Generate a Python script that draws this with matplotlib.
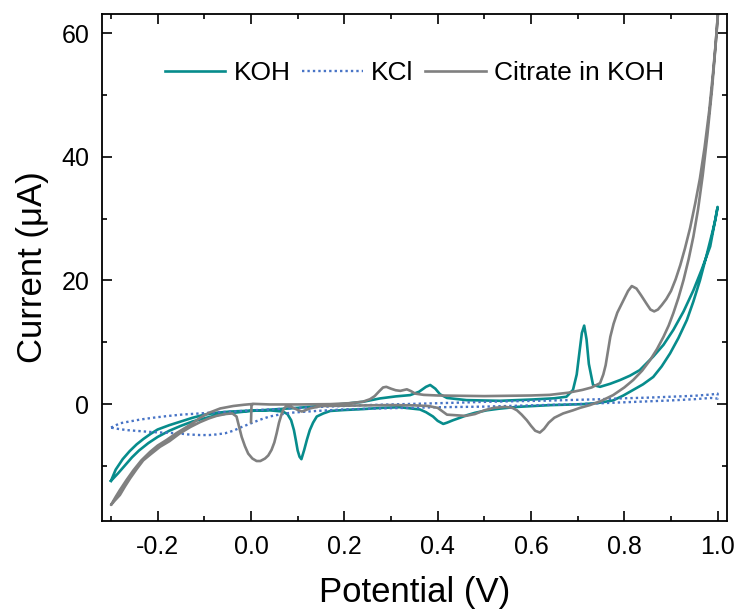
import matplotlib
matplotlib.use("Agg")
import matplotlib.pyplot as plt
from matplotlib.ticker import MultipleLocator, FormatStrFormatter

plt.rcParams['font.family'] = ['Liberation Sans', 'DejaVu Sans']
plt.rcParams['axes.unicode_minus'] = False

# ---- cyclic voltammograms: potential (V) vs current (uA) ----
koh_v = [-0.300, -0.285, -0.270, -0.255, -0.240, -0.220, -0.200, -0.175, -0.150, -0.125,
         -0.100, -0.075, -0.050, -0.025, 0.000, 0.050, 0.100, 0.169, 0.200, 0.240,
         0.276, 0.310, 0.341, 0.360, 0.375, 0.384, 0.395, 0.405, 0.420, 0.462,
         0.534, 0.605, 0.650, 0.676, 0.690, 0.698, 0.704, 0.709, 0.714, 0.719,
         0.724, 0.733, 0.748, 0.770, 0.791, 0.812, 0.833, 0.862, 0.884, 0.905,
         0.927, 0.948, 0.966, 0.984, 1.000,
         0.995, 0.990, 0.976, 0.962, 0.948, 0.934, 0.916, 0.898, 0.880, 0.862,
         0.840, 0.819, 0.798, 0.776, 0.745, 0.712, 0.641, 0.569, 0.530, 0.505,
         0.480, 0.462, 0.448, 0.433, 0.420, 0.412, 0.400, 0.390, 0.375, 0.362,
         0.319, 0.280, 0.240, 0.200, 0.170, 0.155, 0.141, 0.133, 0.126, 0.120,
         0.114, 0.108, 0.104, 0.100, 0.096, 0.092, 0.086, 0.078, 0.068, 0.040,
         0.000, -0.045, -0.075, -0.100, -0.125, -0.150, -0.175, -0.200, -0.215, -0.230,
         -0.245, -0.260, -0.275, -0.290, -0.300]
koh_i = [-12.4, -11.2, -9.9, -8.6, -7.5, -6.3, -5.3, -4.3, -3.5, -2.8,
         -2.3, -1.8, -1.5, -1.3, -1.1, -0.85, -0.6, -0.16, 0.05, 0.38,
         0.92, 1.25, 1.46, 2.0, 2.8, 3.1, 2.5, 1.6, 1.0, 0.65,
         0.54, 0.76, 0.95, 1.2, 2.3, 4.8, 8.5, 11.5, 12.7, 10.5,
         6.5, 3.1, 2.8, 3.3, 3.9, 4.6, 5.5, 7.7, 9.6, 12.0,
         15.0, 18.4, 21.8, 25.5, 31.9,
         29.8, 28.2, 24.0, 20.0, 16.6, 13.6, 10.7, 8.2, 6.1, 4.4,
         3.2, 2.3, 1.4, 0.6, 0.2, 0.0, -0.16, -0.45, -0.75, -1.0,
         -1.4, -1.8, -2.2, -2.6, -3.0, -3.2, -2.7, -2.0, -1.3, -0.86,
         -0.5, -0.6, -0.8, -0.95, -1.1, -1.5, -2.0, -3.0, -4.2, -5.7,
         -7.4, -8.9, -8.5, -7.5, -5.8, -4.2, -2.6, -1.6, -1.2, -1.0,
         -1.05, -1.2, -1.4, -1.7, -2.2, -2.8, -3.4, -4.1, -4.8, -5.6,
         -6.5, -7.6, -8.9, -10.6, -12.4]

kcl_v = [-0.300, -0.281, -0.260, -0.238, -0.210, -0.181, -0.150, -0.109, -0.070, -0.038,
         0.000, 0.041, 0.080, 0.120, 0.160, 0.200, 0.250, 0.300, 0.350, 0.400,
         0.450, 0.500, 0.550, 0.600, 0.650, 0.700, 0.750, 0.800, 0.850, 0.900,
         0.950, 0.985, 1.000,
         1.000, 0.985, 0.950, 0.900, 0.850, 0.800, 0.750, 0.700, 0.650, 0.600,
         0.550, 0.500, 0.450, 0.400, 0.341, 0.300, 0.250, 0.200, 0.141, 0.110,
         0.084, 0.060, 0.040, 0.020, 0.000, -0.020, -0.038, -0.055, -0.074, -0.090,
         -0.109, -0.135, -0.159, -0.190, -0.216, -0.240, -0.266, -0.285, -0.300]
kcl_i = [-3.8, -3.1, -2.8, -2.5, -2.2, -1.94, -1.7, -1.5, -1.3, -1.2,
         -1.0, -0.86, -0.7, -0.55, -0.4, -0.3, -0.15, -0.05, 0.05, 0.15,
         0.25, 0.37, 0.45, 0.52, 0.6, 0.7, 0.8, 0.95, 1.05, 1.2,
         1.35, 1.55, 1.7,
         0.9, 1.0, 0.8, 0.6, 0.45, 0.3, 0.15, 0.0, -0.1, -0.2,
         -0.3, -0.4, -0.45, -0.5, -0.6, -0.65, -0.75, -0.85, -1.1, -1.25,
         -1.4, -1.7, -2.0, -2.5, -3.1, -3.7, -4.3, -4.7, -4.9, -5.0,
         -5.0, -4.9, -4.7, -4.6, -4.5, -4.35, -4.2, -4.0, -3.8]

cit_v = [0.000, 0.001, 0.004, 0.040, 0.100, 0.170, 0.210, 0.240, 0.255, 0.265,
         0.275, 0.283, 0.290, 0.300, 0.310, 0.320, 0.334, 0.343, 0.352, 0.370,
         0.400, 0.450, 0.500, 0.550, 0.600, 0.640, 0.680, 0.710, 0.730, 0.748,
         0.755, 0.760, 0.765, 0.770, 0.777, 0.785, 0.798, 0.808, 0.816, 0.826,
         0.836, 0.848, 0.856, 0.864, 0.872, 0.880, 0.890, 0.900, 0.910, 0.920,
         0.930, 0.941, 0.952, 0.962, 0.972, 0.982, 0.990, 0.996, 1.002,
         0.995, 0.988, 0.978, 0.968, 0.958, 0.948, 0.938, 0.927, 0.916, 0.905,
         0.895, 0.884, 0.870, 0.855, 0.838, 0.819, 0.800, 0.776, 0.750, 0.726,
         0.705, 0.690, 0.669, 0.650, 0.638, 0.628, 0.619, 0.609, 0.600, 0.591,
         0.580, 0.570, 0.560, 0.545, 0.520, 0.500, 0.480, 0.460, 0.440, 0.420,
         0.400, 0.380, 0.350, 0.300, 0.250, 0.200, 0.150, 0.126, 0.109, 0.098,
         0.085, 0.076, 0.070, 0.066, 0.060, 0.055, 0.050, 0.044, 0.037, 0.030,
         0.020, 0.012, 0.003, -0.006, -0.013, -0.020, -0.026, -0.031, -0.040, -0.055,
         -0.074, -0.090, -0.109, -0.130, -0.152, -0.175, -0.195, -0.215, -0.231, -0.245,
         -0.259, -0.270, -0.281, -0.292, -0.300,
         -0.290, -0.281, -0.267, -0.252, -0.235, -0.216, -0.200, -0.181, -0.160, -0.138,
         -0.120, -0.109, -0.090, -0.066, -0.038, -0.015, 0.000]
cit_i = [-2.9, -0.3, 0.05, -0.05, -0.05, 0.0, 0.15, 0.4, 0.8, 1.3,
         2.1, 2.7, 2.8, 2.5, 2.25, 2.15, 2.4, 2.1, 1.7, 1.5,
         1.4, 1.35, 1.3, 1.35, 1.4, 1.5, 1.85, 2.3, 2.7, 3.4,
         4.8, 6.3, 8.6, 10.9, 13.0, 14.8, 16.8, 18.3, 19.1, 18.7,
         17.6, 16.2, 15.3, 15.0, 15.3, 16.0, 17.0, 18.3, 20.2, 22.5,
         25.2, 28.5, 32.5, 36.5, 41.5, 47.5, 53.5, 58.5, 64.5,
         57.5, 51.0, 43.5, 37.0, 31.5, 27.1, 23.5, 20.1, 17.2, 14.7,
         12.7, 10.9, 8.9, 7.1, 5.4, 3.9, 2.7, 1.46, 0.5, -0.16,
         -0.6, -1.0, -1.5, -2.2, -3.0, -4.0, -4.6, -4.3, -3.5, -2.6,
         -1.7, -1.0, -0.6, -0.45, -0.6, -1.0, -1.6, -1.9, -1.8, -1.7,
         -0.6, -0.3, -0.2, -0.15, -0.2, -0.25, -0.3, -0.7, -1.2, -0.86,
         -0.4, -0.3, -0.8, -1.5, -3.0, -4.7, -6.2, -7.4, -8.3, -8.8,
         -9.2, -9.2, -8.8, -8.0, -6.8, -5.3, -3.5, -2.0, -1.5, -1.6,
         -1.9, -2.3, -2.9, -3.7, -4.7, -6.0, -6.9, -8.1, -9.1, -10.5,
         -12.0, -13.3, -14.7, -15.6, -16.3,
         -15.0, -13.9, -12.3, -10.7, -9.1, -7.7, -6.7, -5.8, -4.7, -3.7,
         -2.8, -2.2, -1.4, -0.7, -0.3, -0.1, 0.0]

series_labels = ["KOH", "KCl", "Citrate in KOH"]

fig = plt.figure(figsize=(7.40, 6.12), dpi=100)
ax = fig.add_axes([0.1374, 0.1487, 0.8450, 0.8284])

ax.plot(koh_v, koh_i, color='#078c8c', lw=1.9, label=series_labels[0],
        solid_joinstyle='round')
ax.plot(kcl_v, kcl_i, color='#4874c6', lw=1.7, linestyle=(0, (1, 1.3)),
        label=series_labels[1])
ax.plot(cit_v, cit_i, color='#808080', lw=1.9, label=series_labels[2],
        solid_joinstyle='round')

ax.set_xlim(-0.32, 1.02)
ax.set_ylim(-18.9, 63.1)

ax.xaxis.set_major_locator(MultipleLocator(0.2))
ax.xaxis.set_minor_locator(MultipleLocator(0.1))
ax.xaxis.set_major_formatter(FormatStrFormatter('%.1f'))
ax.yaxis.set_major_locator(MultipleLocator(20))
ax.yaxis.set_minor_locator(MultipleLocator(10))

ax.tick_params(which='both', direction='in', top=True, right=True, width=1.2,
               colors='black')
ax.tick_params(which='major', length=7)
ax.tick_params(which='minor', length=3.5)
ax.tick_params(axis='x', which='major', labelsize=18, pad=10)
ax.tick_params(axis='y', which='major', labelsize=18, pad=9)
for sp in ax.spines.values():
    sp.set_linewidth(1.3)

ax.set_xlabel("Potential (V)", fontsize=25, labelpad=12)
ax.set_ylabel("Current (\u03bcA)", fontsize=25, labelpad=9)

ax.legend(loc='center', bbox_to_anchor=(0.5, 0.884), ncol=3, frameon=False,
          fontsize=19, handlelength=2.3, handletextpad=0.3, columnspacing=0.45,
          borderpad=0, borderaxespad=0)

fig.savefig("out.png", dpi=100)
